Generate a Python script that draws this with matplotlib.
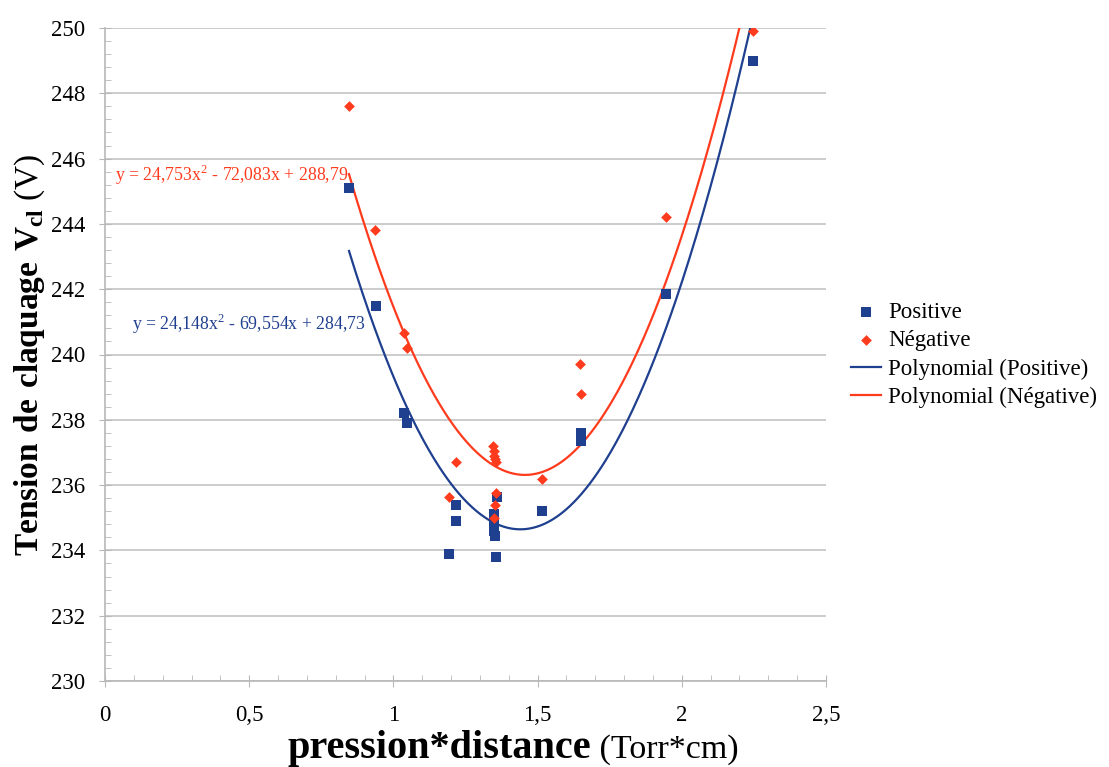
import numpy as np
import matplotlib
matplotlib.use('Agg')
import matplotlib.pyplot as plt
from matplotlib.ticker import MultipleLocator, FuncFormatter

plt.rcParams['font.family'] = ['Liberation Serif', 'DejaVu Serif']
plt.rcParams['mathtext.fontset'] = 'custom'
plt.rcParams['mathtext.rm'] = 'Liberation Serif'
plt.rcParams['mathtext.bf'] = 'Liberation Serif:bold'

# data
pos_x = [0.846, 0.94, 1.037, 1.047, 1.193, 1.217, 1.217, 1.349, 1.349, 1.35, 1.35, 1.352, 1.356, 1.36,
         1.515, 1.65, 1.65, 1.945, 2.247]
pos_y = [245.1, 241.5, 238.2, 237.9, 233.9, 235.4, 234.9, 235.1, 234.9, 234.75, 234.6, 234.45, 233.8, 235.65,
         235.2, 237.6, 237.35, 241.85, 249.0]
neg_x = [0.846, 0.936, 1.037, 1.047, 1.193, 1.217, 1.345, 1.348, 1.35, 1.352, 1.355, 1.357, 1.352, 1.348,
         1.515, 1.647, 1.65, 1.945, 2.247]
neg_y = [247.6, 243.8, 240.65, 240.2, 235.65, 236.7, 237.2, 237.05, 236.9, 236.8, 236.7, 235.75, 235.4, 235.0,
         236.2, 239.7, 238.8, 244.2, 249.9]

# trend line coefficients shown on the chart
pos_coef = [24.148, -69.554, 284.73]
neg_coef = [24.753, -72.083, 288.79]

blue = '#1f3f8f'
red = '#ff3b1d'

W, H = 1109, 767
fig = plt.figure(figsize=(W / 100, H / 100), dpi=100)
ax = fig.add_axes([105 / W, 1 - 681 / H, (826 - 105) / W, (681 - 28) / H])

xx = np.linspace(min(pos_x), max(pos_x), 300)
ax.plot(xx, np.polyval(pos_coef, xx), color=blue, lw=1.6, label='Polynomial (Positive)', zorder=3)
xx = np.linspace(min(neg_x), max(neg_x), 300)
ax.plot(xx, np.polyval(neg_coef, xx), color=red, lw=1.6, label='Polynomial (Négative)', zorder=3)

ax.scatter(pos_x, pos_y, marker='s', s=55, color=blue, linewidths=0, label='Positive', zorder=4)
ax.scatter(neg_x, neg_y, marker='D', s=30, color=red, linewidths=0, label='Négative', zorder=5)

ax.set_xlim(0, 2.5)
ax.set_ylim(230, 250)
ax.xaxis.set_major_locator(MultipleLocator(0.5))
ax.xaxis.set_minor_locator(MultipleLocator(0.1))
ax.yaxis.set_major_locator(MultipleLocator(2))
ax.yaxis.set_minor_locator(MultipleLocator(0.4))
ax.xaxis.set_major_formatter(FuncFormatter(lambda v, p: ('%g' % v).replace('.', ',')))
ax.grid(axis='y', color='#c4c4c4', lw=1.2)
ax.set_axisbelow(True)
for s in ['top', 'right']:
    ax.spines[s].set_visible(False)
for s in ['left', 'bottom']:
    ax.spines[s].set_color('#b8b8b8')
    ax.spines[s].set_linewidth(1.2)
ax.tick_params(which='major', direction='inout', length=8, color='#b8b8b8', labelsize=16.5)
ax.tick_params(axis='x', which='major', pad=13)
ax.tick_params(axis='y', which='major', pad=10)
ax.tick_params(which='minor', direction='in', length=4, color='#b8b8b8')

# x label: bold part + regular part on the same baseline
base_y = 1 - 758 / H
t = fig.text(287 / W, base_y, 'pression*distance', fontsize=29, weight='bold',
             ha='left', va='baseline')
fig.canvas.draw()
x_end = t.get_window_extent().x1 / (W)
fig.text(x_end, base_y, ' (Torr*cm)', fontsize=24.5, ha='left', va='baseline')

ax.set_ylabel(r'$\mathbf{Tension\ de\ claquage\ V}_{\mathbf{cl}}$ (V)', fontsize=24, labelpad=3)

ax.text(0.035, 245.5, r'y = 24,753x$^2$ - 72,083x + 288,79', color=red, fontsize=12.8, va='center')
ax.text(0.095, 240.95, r'y = 24,148x$^2$ - 69,554x + 284,73', color=blue, fontsize=12.8, va='center')

handles, labels = ax.get_legend_handles_labels()
order = [2, 3, 0, 1]
fig.legend([handles[i] for i in order], [labels[i] for i in order], loc='center left',
           bbox_to_anchor=(840 / W, 1 - 355 / H), frameon=False, fontsize=16.5,
           handlelength=1.3, handletextpad=0.3, labelspacing=0.32, borderpad=0)

fig.savefig('out.png', dpi=100)
